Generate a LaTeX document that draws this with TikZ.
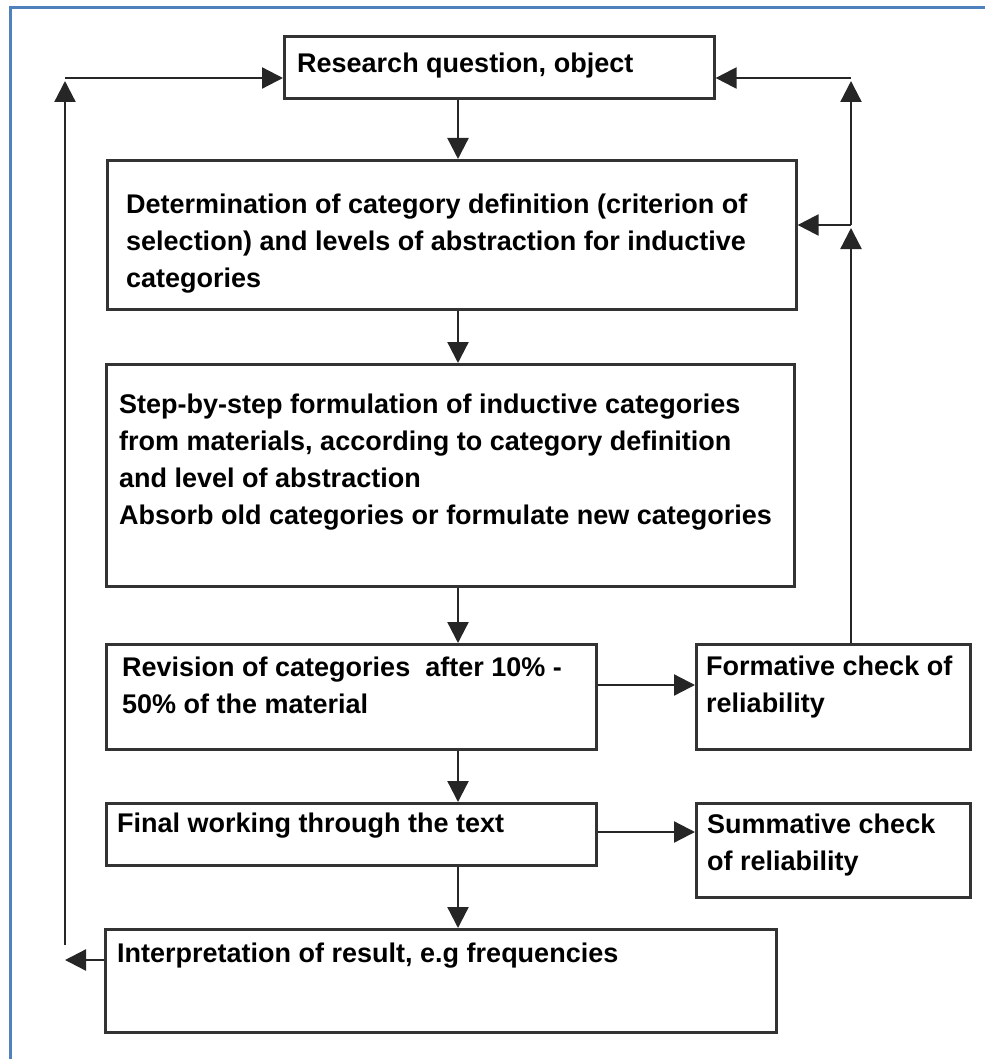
\documentclass[tikz,border=0pt]{standalone}
\usepackage{fontspec}
\setmainfont{Liberation Sans}
\usepackage{xcolor}
\usetikzlibrary{arrows.meta,calc}
\definecolor{frameblue}{RGB}{79,129,189}
\tikzset{
  box/.style  ={draw=black!80,line width=2.6pt,anchor=north west,inner sep=0pt},
  txt/.style  ={anchor=north west,align=left,inner sep=0pt,
                font=\fontsize{27}{37}\selectfont\bfseries},
  flow/.style ={-{Triangle[length=21pt,width=21pt]},line width=2.3pt,draw=black!85,fill=black!85},
  frame/.style={draw=frameblue,line width=3pt},
}

\begin{document}
\begin{tikzpicture}[x=1pt,y=-1pt]
  \useasboundingbox (0,0) rectangle (985,1059);
  \draw[frame] (10,1059) -- (10,8) -- (985,8);
  % boxes
  \node[box,minimum width=430,minimum height=62]  (rq) at (283,35)  {};
  \node[box,minimum width=689,minimum height=149] (dc) at (106,159) {};
  \node[box,minimum width=688,minimum height=222] (st) at (105,363) {};
  \node[box,minimum width=490,minimum height=105] (rv) at (105,643) {};
  \node[box,minimum width=274,minimum height=105] (fm) at (695,643) {};
  \node[box,minimum width=490,minimum height=62]  (fn) at (105,802) {};
  \node[box,minimum width=274,minimum height=94]  (sm) at (695,802) {};
  \node[box,minimum width=671,minimum height=103] (ip) at (104,928) {};
  % texts
  \node[txt] (rqt) at (297,46)  {\strut Research question, object};
  \node[txt] (dct) at (126,187) {\strut Determination of category definition (criterion of\\
    selection) and levels of abstraction for inductive\\categories};
  \node[txt] (stt) at (119,387) {\strut Step-by-step formulation of inductive categories\\
    from materials, according to category definition\\and level of abstraction\\
    Absorb old categories or formulate new categories};
  \node[txt] (rvt) at (122,650) {\strut Revision of categories\ \ after 10\% -\\50\% of the material};
  \node[txt] (fmt) at (706,649) {\strut Formative check of\\reliability};
  \node[txt] (fnt) at (117,806) {\strut Final working through the text};
  \node[txt] (smt) at (707,807) {\strut Summative check\\of reliability};
  \node[txt] (ipt) at (117,936) {\strut Interpretation of result, e.g frequencies};
  % main chain
  \coordinate (sp) at (458,0);
  \draw[flow] (rq.south -| sp) -- (dc.north -| sp);
  \draw[flow] (dc.south -| sp) -- (st.north -| sp);
  \draw[flow] (st.south -| sp) -- (rv.north -| sp);
  \draw[flow] (rv.south -| sp) -- (fn.north -| sp);
  \draw[flow] (fn.south -| sp) -- (ip.north -| sp);
  % checks
  \coordinate (r1) at (0,685);
  \coordinate (r2) at (0,832);
  \draw[flow] (rv.east |- r1) -- (fm.west |- r1);
  \draw[flow] (fn.east |- r2) -- (sm.west |- r2);
  % feedback on the right
  \coordinate (rx) at (851,0);
  \coordinate (ky) at (0,225);
  \coordinate (ty) at (0,78);
  \draw[flow,shorten >=3pt] (fm.north -| rx) -- (rx |- ky);
  \draw[flow] (rx |- ky) -- (dc.east |- ky);
  \draw[flow,shorten >=3pt] (rx |- ky) -- (rx |- ty);
  \draw[flow] (rx |- ty) -- (rq.east |- ty);
  % feedback on the left
  \coordinate (lo) at (65,960);
  \coordinate (lb) at (65,945);
  \coordinate (lt) at (65,78);
  \draw[flow] (ip.west |- lo) -- (lo);
  \draw[flow,shorten >=3pt] (lb) -- (lt);
  \draw[flow] (lt) -- (rq.west |- lt);
\end{tikzpicture}
\end{document}
